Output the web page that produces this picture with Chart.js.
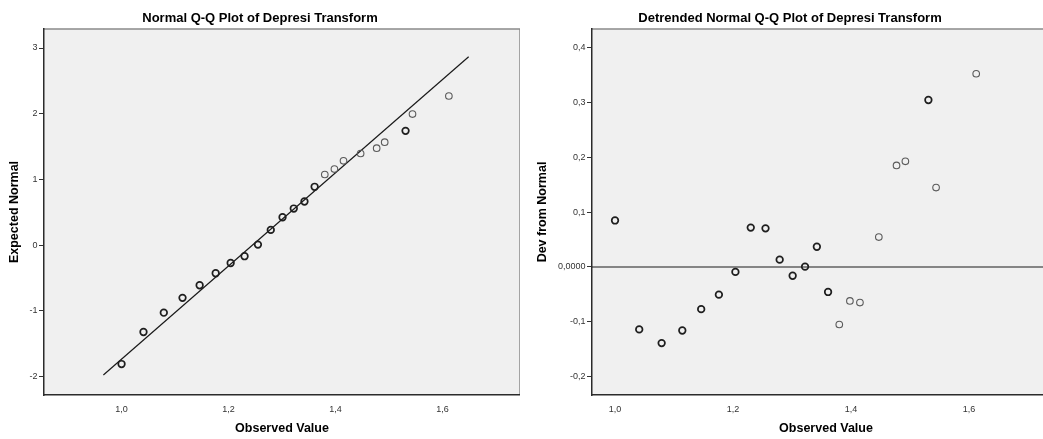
<!DOCTYPE html>
<html>
<head>
<meta charset="utf-8">
<script src="https://cdn.jsdelivr.net/npm/chart.js@4.4.1/dist/chart.umd.min.js"></script>
<style>
  html, body { margin:0; padding:0; background:#fff; overflow:hidden; }
  #left { position:absolute; left:0; top:0; width:520px; height:439px; }
  #right { position:absolute; left:520px; top:0; width:540px; height:439px; }
</style>
</head>
<body>
<div id="left"><canvas id="qqChart"></canvas></div>
<div id="right"><canvas id="detChart"></canvas></div>
<script>
// observed values, shared by both plots
const observed = [1.000, 1.041, 1.079, 1.114, 1.146, 1.176, 1.204, 1.230, 1.255, 1.279, 1.301, 1.322,
                  1.342, 1.361, 1.380, 1.398, 1.415, 1.447, 1.477, 1.492, 1.531, 1.544, 1.612];
const expectedNormal = [-1.807, -1.32, -1.026, -0.80, -0.609, -0.426, -0.27, -0.167, 0.01, 0.233, 0.426, 0.558,
                        0.665, 0.889, 1.076, 1.158, 1.284, 1.395, 1.477, 1.568, 1.74, 1.995, 2.27];
const devFromNormal = [0.085, -0.114, -0.139, -0.116, -0.077, -0.0505, -0.009, 0.072, 0.0706, 0.0134, -0.016, 0.0006,
                       0.037, -0.0456, -0.105, -0.062, -0.065, 0.0547, 0.1856, 0.193, 0.305, 0.145, 0.353];
// cases sharing the same value (drawn darker)
const caseCount = [2, 2, 2, 2, 2, 2, 2, 2, 2, 2, 2, 2, 2, 2, 1, 1, 1, 1, 1, 1, 2, 1, 1];
// reference lines
const refLineX = [0.966, 1.649];
const refLineY = [-1.974, 2.868];
const zeroLineX = [0.9, 1.8];
const zeroLineY = [0, 0];

Chart.defaults.font.family = "'Liberation Sans', Arial, sans-serif";
Chart.defaults.animation = false;

const plotFrame = {
  id: 'plotFrame',
  beforeDraw(chart) {
    const {ctx, chartArea: a} = chart;
    ctx.save();
    ctx.fillStyle = '#f0f0f0';
    ctx.fillRect(a.left, a.top, a.right - a.left, a.bottom - a.top);
    ctx.strokeStyle = '#8a8a8a';
    ctx.lineWidth = 1.5;
    ctx.beginPath();
    ctx.moveTo(a.left, a.top);
    ctx.lineTo(a.right, a.top);
    ctx.lineTo(a.right, a.bottom);
    ctx.stroke();
    ctx.restore();
  }
};

const commaFmt = (v, d) => v.toFixed(d).replace('.', ',');

function pointSet(ys) {
  return {
    type: 'scatter',
    data: observed.map((x, i) => ({x: x, y: ys[i]})),
    pointRadius: 3.3,
    pointHoverRadius: 3.3,
    backgroundColor: 'rgba(0,0,0,0)',
    borderColor: c => caseCount[c.dataIndex] > 1 ? '#1e1e1e' : '#5a5a5a',
    borderWidth: c => caseCount[c.dataIndex] > 1 ? 1.7 : 1.1
  };
}

function lineSet(xs, ys) {
  return {
    type: 'line',
    data: xs.map((x, i) => ({x: x, y: ys[i]})),
    borderColor: '#1a1a1a',
    borderWidth: 1.2,
    pointRadius: 0,
    fill: false
  };
}

function makeOptions(o) {
  return {
    responsive: true,
    maintainAspectRatio: false,
    layout: { padding: 0, autoPadding: false },
    plugins: {
      legend: { display: false },
      tooltip: { enabled: false },
      title: {
        display: true, text: o.title, color: '#000',
        font: { size: 13, weight: 'bold' },
        padding: { top: 10.5, bottom: 2.9 }
      }
    },
    scales: {
      x: {
        type: 'linear', min: o.xMin, max: o.xMax,
        afterFit: s => { s.height = 44; },
        grid: { display: false },
        border: { color: '#2b2b2b', width: 1.5 },
        ticks: { stepSize: 0.2, includeBounds: false, padding: 1, color: '#333',
                 font: { size: 9 }, callback: v => commaFmt(v, 1) },
        title: { display: true, text: 'Observed Value', color: '#000',
                 font: { size: 12.5, weight: 'bold' }, padding: { top: 0, bottom: 2.5 } }
      },
      y: {
        type: 'linear', min: o.yMin, max: o.yMax,
        afterFit: s => { s.width = o.yWidth; },
        grid: { display: true, drawOnChartArea: false, drawTicks: true, tickLength: 5,
                tickColor: '#333', tickWidth: 1 },
        border: { color: '#2b2b2b', width: 1.5 },
        ticks: { stepSize: o.yStep, includeBounds: false, padding: 1.5, color: '#333',
                 font: { size: 9 }, callback: o.yFmt },
        title: { display: true, text: o.yTitle, color: '#000',
                 font: { size: 12.5, weight: 'bold' }, padding: { top: o.yTitlePad, bottom: 0 } }
      }
    }
  };
}

new Chart(document.getElementById('qqChart'), {
  type: 'scatter',
  data: { datasets: [pointSet(expectedNormal), lineSet(refLineX, refLineY)] },
  options: makeOptions({
    title: 'Normal Q-Q Plot of Depresi Transform',
    xMin: 0.855, xMax: 1.745, yMin: -2.278, yMax: 3.289, yStep: 1,
    yWidth: 44, yTitle: 'Expected Normal', yTitlePad: 7.5,
    yFmt: v => String(Math.round(v))
  }),
  plugins: [plotFrame]
});

new Chart(document.getElementById('detChart'), {
  type: 'scatter',
  data: { datasets: [pointSet(devFromNormal), lineSet(zeroLineX, zeroLineY)] },
  options: makeOptions({
    title: 'Detrended Normal Q-Q Plot of Depresi Transform',
    xMin: 0.961, xMax: 1.754, yMin: -0.2338, yMax: 0.4347, yStep: 0.1,
    yWidth: 72, yTitle: 'Dev from Normal', yTitlePad: 15.5,
    yFmt: v => Math.abs(v) < 1e-9 ? '0,0000' : commaFmt(v, 1)
  }),
  plugins: [plotFrame]
});
</script>
</body>
</html>
